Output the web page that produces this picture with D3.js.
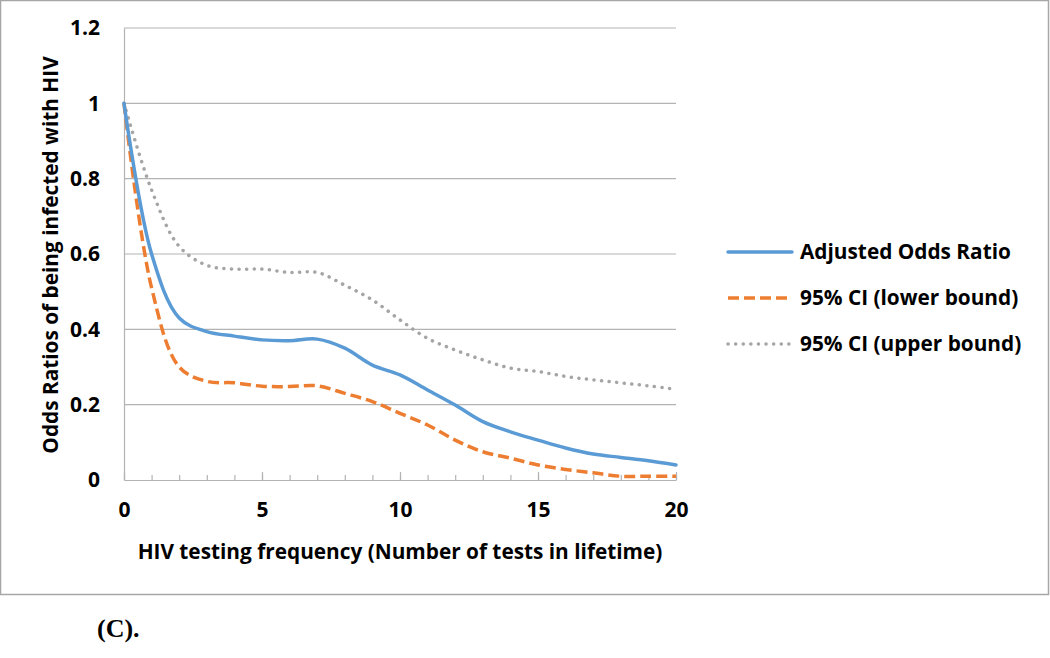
<!DOCTYPE html>
<html><head><meta charset="utf-8">
<script src="https://cdn.jsdelivr.net/npm/d3@7/dist/d3.min.js"></script>
<style>body{margin:0;background:#fff}svg{display:block}</style>
</head><body>
<script>
const tests = [0,1,2,3,4,5,6,7,8,9,10,11,12,13,14,15,16,17,18,19,20];
const adjustedOR = [1.0,0.60,0.43,0.394,0.382,0.372,0.370,0.374,0.350,0.305,0.279,0.239,0.199,0.155,0.128,0.106,0.085,0.069,0.060,0.051,0.040];
const lowerCI = [1.0,0.51,0.30,0.262,0.258,0.249,0.248,0.250,0.230,0.208,0.177,0.146,0.106,0.075,0.058,0.040,0.028,0.019,0.010,0.010,0.010];
const upperCI = [1.0,0.77,0.62,0.570,0.560,0.560,0.551,0.551,0.517,0.478,0.425,0.376,0.345,0.319,0.297,0.288,0.275,0.266,0.258,0.250,0.241];
const xTicks = [0,5,10,15,20];
const yTicks = [0,0.2,0.4,0.6,0.8,1,1.2];
const seriesNames = ["Adjusted Odds Ratio","95% CI (lower bound)","95% CI (upper bound)"];

const W=1050,H=658;
const svg=d3.select("body").append("svg").attr("width",W).attr("height",H);
const font="'Open Sans', Lato, sans-serif";
svg.append("rect").attr("x",0.5).attr("y",0.5).attr("width",1048).attr("height",594)
  .attr("fill","#fff").attr("stroke","#a6a6a6").attr("stroke-width",1.5);

const x=d3.scaleLinear().domain([0,20]).range([124,676]);
const y=d3.scaleLinear().domain([0,1.2]).range([480,28]);
const grid="#b3b3b3";

// gridlines
svg.append("g").selectAll("line").data(yTicks.filter(d=>d>0)).join("line")
  .attr("x1",x(0)).attr("x2",x(20)).attr("y1",d=>y(d)).attr("y2",d=>y(d))
  .attr("stroke",grid).attr("stroke-width",1.2);

// y axis
const yAx=svg.append("g").attr("transform",`translate(${x(0)},0)`)
  .call(d3.axisLeft(y).tickValues(yTicks).tickSize(0).tickPadding(24).tickFormat(d3.format("~g")));
yAx.select(".domain").attr("stroke",grid).attr("stroke-width",1.2);
yAx.selectAll("text").attr("font-family",font).attr("font-weight","bold").attr("font-size",21).attr("fill","#000");

// x axis minor ticks
const xAx=svg.append("g").attr("transform",`translate(0,${y(0)})`)
  .call(d3.axisBottom(x).tickValues(tests).tickSizeInner(-5).tickSizeOuter(0).tickFormat(""));
xAx.select(".domain").attr("stroke",grid).attr("stroke-width",1.2);
xAx.selectAll(".tick line").attr("stroke",grid).attr("stroke-width",1.2);
const xAx2=svg.append("g").attr("transform",`translate(0,${y(0)})`)
  .call(d3.axisBottom(x).tickValues(xTicks).tickSizeInner(-8).tickSizeOuter(0).tickPadding(22));
xAx2.select(".domain").remove();
xAx2.selectAll(".tick line").attr("stroke",grid).attr("stroke-width",1.2);
xAx2.selectAll("text").attr("font-family",font).attr("font-weight","bold").attr("font-size",21).attr("fill","#000");

// axis titles
svg.append("text").attr("x",400).attr("y",559).attr("text-anchor","middle")
  .attr("font-family",font).attr("font-weight","bold").attr("font-size",20.8).text("HIV testing frequency (Number of tests in lifetime)");
svg.append("text").attr("transform","translate(58,255) rotate(-90)").attr("text-anchor","middle")
  .attr("font-family",font).attr("font-weight","bold").attr("font-size",20.8).text("Odds Ratios of being infected with HIV");

const styles=[
  {c:"#5b9bd5",w:3.5,dash:null,cap:"round"},
  {c:"#ed7d31",w:3.5,dash:"11 5",cap:"butt"},
  {c:"#a5a5a5",w:3.5,dash:"0.1 7.5",cap:"round"}
];
const data=[adjustedOR,lowerCI,upperCI];
const line=d3.line().x((d,i)=>x(tests[i])).y(d=>y(d)).curve(d3.curveCatmullRom.alpha(0.5));
[2,1,0].forEach(k=>{
  svg.append("path").datum(data[k]).attr("d",line).attr("fill","none")
    .attr("stroke",styles[k].c).attr("stroke-width",styles[k].w)
    .attr("stroke-dasharray",styles[k].dash).attr("stroke-linecap",styles[k].cap).attr("stroke-linejoin","round");
});

// legend
const ly=[252,298,344];
seriesNames.forEach((n,k)=>{
  svg.append("line").attr("x1",728).attr("x2",792).attr("y1",ly[k]).attr("y2",ly[k])
    .attr("stroke",styles[k].c).attr("stroke-width",styles[k].w)
    .attr("stroke-dasharray",styles[k].dash).attr("stroke-linecap",styles[k].cap);
  svg.append("text").attr("x",800).attr("y",ly[k]).attr("dy","0.35em")
    .attr("font-family",font).attr("font-weight","bold").attr("font-size",20.8).text(n);
});

svg.append("text").attr("x",97).attr("y",637).attr("font-family","'Liberation Serif', 'DejaVu Serif', serif")
  .attr("font-weight","bold").attr("font-size",26).text("(C).");
</script>
</body></html>
